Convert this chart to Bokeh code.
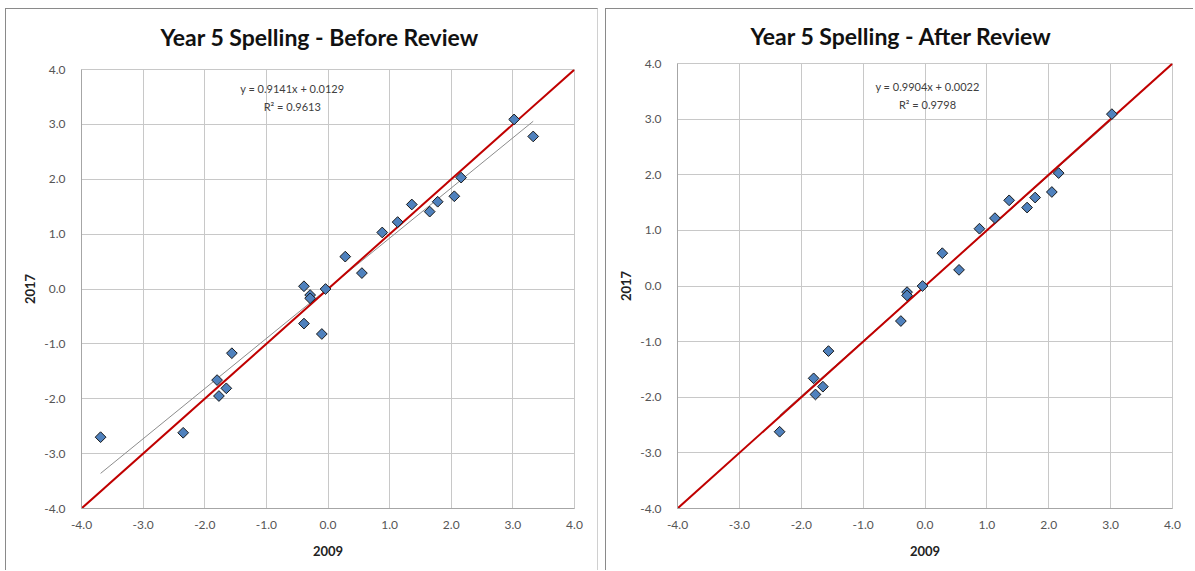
import math
from bokeh.plotting import figure
from bokeh.layouts import row
from bokeh.models import FixedTicker, NumeralTickFormatter, Label, Range1d, Title
from bokeh.embed import file_html
from bokeh.resources import INLINE

# ---- data ----
before_x = [-3.69, -2.35, -1.80, -1.77, -1.65, -1.56, -0.39, -0.29, -0.29, -0.39, -0.04, -0.10,
            0.28, 0.55, 0.88, 1.13, 1.36, 1.65, 1.78, 2.05, 2.16, 3.02, 3.33]
before_y = [-2.70, -2.62, -1.66, -1.95, -1.81, -1.17, 0.05, -0.11, -0.17, -0.63, 0.00, -0.82,
            0.59, 0.29, 1.03, 1.22, 1.54, 1.41, 1.59, 1.69, 2.03, 3.09, 2.78]
after_x = [-2.35, -1.80, -1.77, -1.65, -1.56, -0.29, -0.29, -0.39, -0.04,
           0.28, 0.55, 0.88, 1.13, 1.36, 1.65, 1.78, 2.05, 2.16, 3.02]
after_y = [-2.62, -1.66, -1.95, -1.81, -1.17, -0.11, -0.17, -0.63, 0.00,
           0.59, 0.29, 1.03, 1.22, 1.54, 1.41, 1.59, 1.69, 2.03, 3.09]
before_fit = (0.9141, 0.0129, 0.9613)
after_fit = (0.9904, 0.0022, 0.9798)
identity_x = [-4.0, 4.0]
identity_y = [-4.0, 4.0]
ticks = [-4, -3, -2, -1, 0, 1, 2, 3, 4]
titles = ["Year 5 Spelling - Before Review", "Year 5 Spelling - After Review"]
x_label = "2009"
y_label = "2017"

FONT = "Lato"
EDGE = "1px solid #8a8a8a"


def make_panel(xs, ys, fit, title, width, border_left, border_right, border_top, border_bottom,
               title_offset, title_standoff, spacer, eq_x, eq_y1, eq_y2, styles, margin):
    p = figure(width=width, height=562, output_backend="svg", toolbar_location=None,
               x_range=Range1d(-4, 4), y_range=Range1d(-4, 4),
               min_border_left=border_left, min_border_right=border_right,
               min_border_top=border_top, min_border_bottom=border_bottom,
               frame_align=False, styles=styles, margin=margin)
    if spacer:
        p.add_layout(Title(text=" ", text_font_size="1px", standoff=0), "above")
    p.title.text = title
    p.title.align = "left"
    p.title.vertical_align = "top"
    p.title.offset = title_offset
    p.title.standoff = title_standoff
    p.title.text_font = FONT
    p.title.text_font_style = "bold"
    p.title.text_font_size = "23px"
    p.title.text_color = "#111111"
    p.outline_line_color = "#c8c8c8"
    p.background_fill_color = "white"
    p.border_fill_color = "white"
    for ax in (p.xaxis[0], p.yaxis[0]):
        ax.ticker = FixedTicker(ticks=ticks)
        ax.formatter = NumeralTickFormatter(format="0.0")
        ax.major_tick_line_color = None
        ax.minor_tick_line_color = None
        ax.axis_line_color = "#a6a6a6"
        ax.major_label_text_font = FONT
        ax.major_label_text_font_size = "12px"
        ax.major_label_text_color = "#555555"
        ax.axis_label_text_font = FONT
        ax.axis_label_text_font_style = "bold"
        ax.axis_label_text_font_size = "13px"
        ax.axis_label_text_color = "#222222"
    p.xaxis.axis_label = x_label
    p.yaxis.axis_label = y_label
    p.xaxis.major_label_standoff = 6
    p.yaxis.major_label_standoff = 10
    p.xaxis.axis_label_standoff = 14
    p.yaxis.axis_label_standoff = 6
    p.grid.grid_line_color = "#c8c8c8"
    p.grid.grid_line_width = 1

    slope, intercept, r2 = fit
    fx = [min(xs), max(xs)]
    fy = [slope * v + intercept for v in fx]
    p.line(fx, fy, line_color="#8c8c8c", line_width=1)
    p.line(identity_x, identity_y, line_color="#c00000", line_width=2)
    p.scatter(xs, ys, marker="square", size=7.6, angle=math.pi / 4, fill_color="#4f81bd",
              line_color="#1a1a1a", line_width=1)

    eq1 = "y = %.4fx + %.4f" % (slope, intercept)
    eq2 = "R² = %.4f" % r2
    for txt, yy in ((eq1, eq_y1), (eq2, eq_y2)):
        p.add_layout(Label(x=eq_x, y=yy, text=txt, text_align="center", text_baseline="middle",
                           text_font=FONT, text_font_size="11px", text_color="#404040"))
    return p


p1 = make_panel(before_x, before_y, before_fit, titles[0], 593, 75, 25, 60, 63, 79, 27, True,
                -0.58, 3.65, 3.32,
                {"border-top": EDGE, "border-left": EDGE, "border-right": "1px solid #d0d0d0",
                 "box-sizing": "border-box"}, (8, 0, 0, 5))
p2 = make_panel(after_x, after_y, after_fit, titles[1], 588, 71, 22, 54, 63, 73, 24, False,
                0.04, 3.58, 3.26,
                {"border-top": EDGE, "border-left": EDGE, "box-sizing": "border-box"}, (8, 0, 0, 0))

layout = row(p1, p2, spacing=7)
open("out.html", "w").write(file_html(layout, INLINE))
